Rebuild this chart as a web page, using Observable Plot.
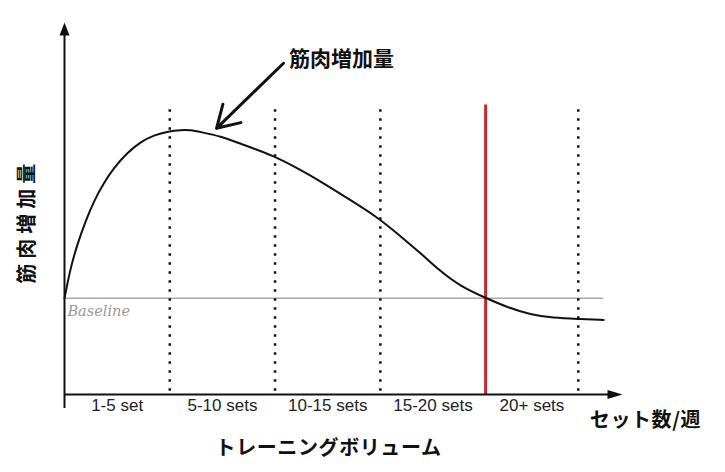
<!DOCTYPE html>
<html><head><meta charset="utf-8">
<script src="https://cdn.jsdelivr.net/npm/d3@7"></script>
<script src="https://cdn.jsdelivr.net/npm/@observablehq/plot@0.6"></script>
<style>html,body{margin:0;padding:0;background:#fff}</style>
</head><body><div id="chart"></div>
<script>
// Categories (training volume, sets per week)
const categories = ["1-5 set", "5-10 sets", "10-15 sets", "15-20 sets", "20+ sets"];
const bounds = [0, 5, 10, 15, 20, 24.4];
const dividers = [5, 10, 15, 24.4];
const threshold = [20];
const baselineValue = 0;

// Muscle-gain curve
const curveX = [0, 0.285, 0.603, 0.997, 1.391, 1.866, 2.341, 2.977, 3.609, 4.240, 4.952, 5.508, 5.983, 6.458, 7.407, 8.357, 9.910, 11.049, 12.156, 13.424, 14.924, 15.954, 16.904, 17.854, 18.803, 20.038, 21.021, 22.127, 23.234, 24.345, 25.608];
const curveY = [0, 1.89, 3.35, 4.80, 6.05, 7.19, 8.13, 9.07, 9.75, 10.17, 10.42, 10.50, 10.50, 10.37, 10.11, 9.64, 8.90, 8.12, 7.30, 6.25, 5.01, 3.87, 2.83, 1.68, 0.75, 0, -0.56, -1.02, -1.23, -1.29, -1.35];

// Texts
const yLabel = "筋肉増加量";
const curveLabel = "筋肉増加量";
const xTitle = "トレーニングボリューム";
const unitLabel = "セット数/週";
const baselineLabel = "Baseline";

const curve = curveX.map((x, i) => ({x, y: curveY[i]}));
const mids = categories.map((c, i) => (bounds[i] + bounds[i + 1]) / 2);

const jp = "'Noto Sans CJK JP', sans-serif";

const arrowUp = {draw(ctx) { ctx.moveTo(0, 0); ctx.lineTo(5, 13); ctx.lineTo(-5, 13); ctx.closePath(); }};
const arrowRight = {draw(ctx) { ctx.moveTo(0, 0); ctx.lineTo(-15, 4.5); ctx.lineTo(-15, -4.5); ctx.closePath(); }};

const svg = Plot.plot({
  width: 725, height: 472,
  marginLeft: 64, marginRight: 103, marginTop: 22, marginBottom: 78,
  style: {fontFamily: "'Liberation Sans', Arial, sans-serif", fontSize: "17px", background: "#fff"},
  x: {domain: [0, 26.5], axis: null},
  y: {domain: [-6, 17.2], axis: null},
  marks: [
    Plot.ruleY([baselineValue], {x1: 0, x2: 25.6, stroke: "#aaa", strokeWidth: 1.5}),
    Plot.ruleX(dividers, {y1: -5.8, y2: 12, stroke: "#111", strokeWidth: 2.5, strokeDasharray: "2.5,6.5"}),
    Plot.ruleX(threshold, {y1: -6, y2: 12.05, stroke: "#c4282d", strokeWidth: 3}),
    Plot.line(curve, {x: "x", y: "y", curve: "basis", stroke: "#111", strokeWidth: 2}),
    Plot.ruleX([0], {y1: -6.87, y2: 16.6, stroke: "#111", strokeWidth: 2}),
    Plot.ruleY([-6], {x1: 0, x2: 25.9, stroke: "#111", strokeWidth: 2}),
    Plot.dot([{x: 0, y: 17.2}], {x: "x", y: "y", symbol: arrowUp, fill: "#111", stroke: "none"}),
    Plot.dot([{x: 26.5, y: -6}], {x: "x", y: "y", symbol: arrowRight, fill: "#111", stroke: "none"}),
    Plot.axisX(mids, {tickSize: 0, tickPadding: 4, tickFormat: d => categories[mids.indexOf(d)], fill: "#222", fontSize: 17, label: null}),
    Plot.text([baselineLabel], {x: 0.14, y: -0.81, text: d => d, textAnchor: "start", fontFamily: "'DejaVu Serif', serif", fontStyle: "italic", fontSize: 14.5, fill: "#999"}),
    Plot.arrow([{x1: 10.4, y1: 14.66, x2: 7.22, y2: 10.6}], {x1: "x1", y1: "y1", x2: "x2", y2: "y2", stroke: "#111", strokeWidth: 3, headLength: 12.5, headAngle: 62, bend: 0}),
    Plot.text([curveLabel], {x: 13.15, y: 14.91, text: d => d, fontFamily: jp, fontWeight: "bold", fontSize: 21, fill: "#111"}),
    Plot.text([yLabel], {x: -1.76, y: 4.8, text: d => d, rotate: -90, fontFamily: jp, fontWeight: "bold", fontSize: 20, fill: "#111"}),
    Plot.text([xTitle], {x: 12.54, y: -9.36, text: d => d, fontFamily: jp, fontWeight: "bold", fontSize: 20, fill: "#111"}),
    Plot.text([unitLabel], {x: 27.59, y: -7.61, text: d => d, fontFamily: jp, fontWeight: "bold", fontSize: 20, fill: "#111"})
  ]
});
d3.select(svg).selectAll("text").filter(function () { return this.textContent === yLabel && this.getAttribute("transform") && this.getAttribute("transform").includes("rotate"); }).attr("letter-spacing", 5);
d3.select(svg).selectAll("text").filter(function () { return this.textContent === xTitle || this.textContent === unitLabel; }).attr("letter-spacing", 0.6);
document.getElementById("chart").appendChild(svg);
</script>
</body></html>
